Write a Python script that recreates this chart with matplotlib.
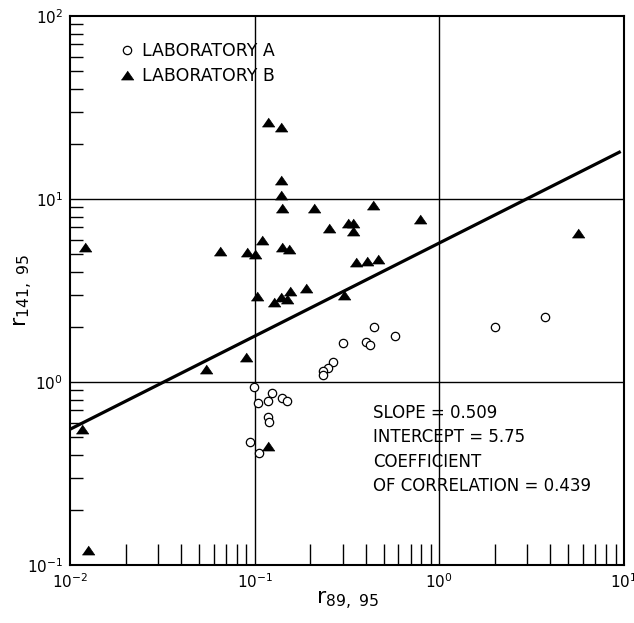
import matplotlib
matplotlib.use("Agg")
import matplotlib.pyplot as plt
import numpy as np
from matplotlib.ticker import LogLocator, NullFormatter

# Laboratory A (open circles)
lab_a_x = [0.443, 0.575, 0.300, 0.399, 0.421, 0.267, 0.250, 0.234, 0.234,
           2.00, 3.73, 0.0992, 0.1245, 0.1046, 0.1176, 0.140, 0.149,
           0.1185, 0.120, 0.0943, 0.1055]
lab_a_y = [1.99, 1.79, 1.63, 1.66, 1.59, 1.28, 1.20, 1.15, 1.09,
           2.00, 2.27, 0.943, 0.874, 0.770, 0.790, 0.820, 0.790,
           0.646, 0.602, 0.472, 0.408]

# Laboratory B (filled triangles)
lab_b_x = [0.1176, 0.1388, 0.139, 0.139, 0.140, 0.2095, 0.252, 0.01206,
           0.110, 0.0651, 0.0905, 0.1004, 0.140, 0.1534, 0.1025, 0.1276,
           0.139, 0.149, 0.1553, 0.1897, 0.4385, 0.3215, 0.342, 0.339,
           0.785, 5.65, 0.356, 0.404, 0.467, 0.305, 0.0893, 0.0545,
           0.01157, 0.1185, 0.01247]
lab_b_y = [26.5, 24.6, 12.7, 10.5, 8.9, 8.9, 6.92, 5.49,
           5.97, 5.20, 5.15, 4.99, 5.49, 5.33, 2.96, 2.73,
           2.90, 2.83, 3.15, 3.25, 9.27, 7.42, 7.42, 6.68,
           7.78, 6.49, 4.51, 4.58, 4.70, 2.99, 1.375, 1.18,
           0.551, 0.449, 0.1208]

# Least-squares fit in log space: r141 = INTERCEPT * r89 ** SLOPE
SLOPE = 0.509
INTERCEPT = 5.75
CORRELATION = 0.439
fit_x = np.array([0.01, 9.6])

stats_lines = [
    f"SLOPE = {SLOPE}",
    f"INTERCEPT = {INTERCEPT}",
    "COEFFICIENT",
    f"OF CORRELATION = {CORRELATION}",
]

plt.rcParams["font.family"] = ["DejaVu Sans"]

fig = plt.figure(figsize=(6.34, 6.23), dpi=100)
ax = fig.add_axes([0.1104, 0.0931, 0.8738, 0.8812])

ax.set_xscale("log")
ax.set_yscale("log")
ax.set_xlim(1e-2, 1e1)
ax.set_ylim(1e-1, 1e2)

# full-length grid lines at the inner decades only
for gx in (1e-1, 1e0):
    ax.axvline(gx, color="black", linewidth=1.0, zorder=1)
for gy in (1e0, 1e1):
    ax.axhline(gy, color="black", linewidth=1.0, zorder=1)

ax.plot(fit_x, INTERCEPT * fit_x ** SLOPE, color="black", linewidth=2.3,
        solid_capstyle="butt", zorder=2)

tri = [(-1.0, -0.72), (1.0, -0.72), (0.0, 0.72)]
ax.plot(lab_a_x, lab_a_y, linestyle="none", marker="o", markersize=6,
        markerfacecolor="white", markeredgecolor="black",
        markeredgewidth=0.9, label="LABORATORY A", zorder=3)
ax.plot(lab_b_x, lab_b_y, linestyle="none", marker=tri, markersize=9,
        markerfacecolor="black", markeredgecolor="black",
        markeredgewidth=0.5, label="LABORATORY B", zorder=3)

for i, line in enumerate(stats_lines):
    ax.text(0.547, 0.277 - i * 0.0446, line, transform=ax.transAxes,
            fontsize=12, va="center", ha="left")

leg = ax.legend(loc="upper left", bbox_to_anchor=(0.077, 0.966),
                frameon=False, fontsize=12.5, handlelength=0.8,
                handletextpad=0.5, labelspacing=0.42, borderaxespad=0)

for side in ax.spines.values():
    side.set_linewidth(1.5)

ax.xaxis.set_minor_locator(LogLocator(base=10, subs=np.arange(2, 10)))
ax.yaxis.set_minor_locator(LogLocator(base=10, subs=np.arange(2, 10)))
ax.xaxis.set_minor_formatter(NullFormatter())
ax.yaxis.set_minor_formatter(NullFormatter())
ax.tick_params(which="major", length=0, labelsize=11, pad=5)
ax.tick_params(axis="x", which="minor", direction="in", length=15,
               width=1.0, top=False)
ax.tick_params(axis="y", which="minor", direction="in", length=9.5,
               width=1.0, right=False)

ax.set_xlabel(r"r$_{89,\ 95}$", fontsize=16)
ax.set_ylabel(r"r$_{141,\ 95}$", fontsize=16)
ax.xaxis.set_label_coords(0.5, -0.045)
ax.yaxis.set_label_coords(-0.063, 0.5)

fig.savefig("out.png", dpi=100)
